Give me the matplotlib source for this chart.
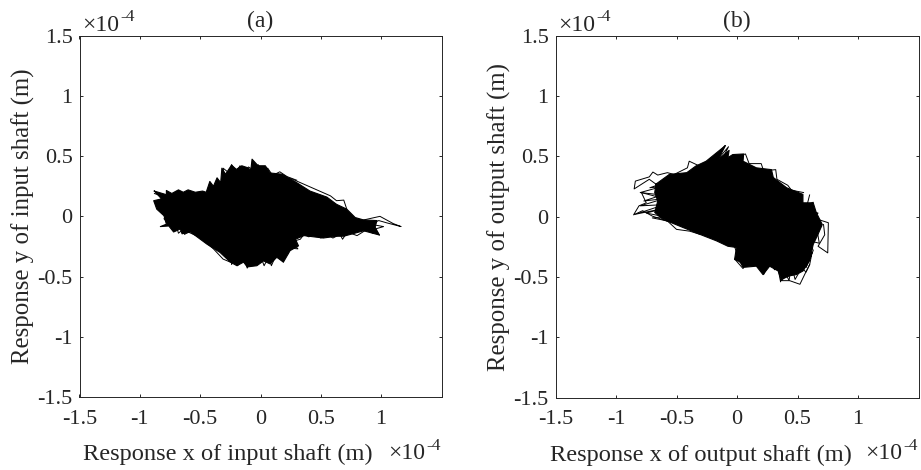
import matplotlib
matplotlib.use("Agg")
import matplotlib.pyplot as plt

plt.rcParams['font.family'] = ['Liberation Serif', 'DejaVu Serif']

ticks = [-1.5, -1, -0.5, 0, 0.5, 1, 1.5]
xtick_labels = ['-1.5', '-1', '-0.5', '0', '0.5', '1', '']
ytick_labels = ['-1.5', '-1', '-0.5', '0', '0.5', '1', '1.5']

# Envelope of the orbit, input shaft (units of 1e-4 m)
input_x = [-0.88,-0.78,-0.78,-0.735,-0.68,-0.64,-0.60,-0.54,-0.48,-0.45,-0.42,-0.39,-0.36,-0.33,-0.32,-0.29,
           -0.24,-0.20,-0.155,-0.11,-0.08,-0.07,-0.02,0.04,0.08,0.18,0.30,0.41,0.55,0.63,0.715,0.785,0.855,
           0.965,0.95,0.985,0.855,0.69,0.63,0.52,0.36,0.29,0.315,0.245,0.19,0.135,0.08,0.025,-0.03,-0.11,
           -0.14,-0.195,-0.25,-0.335,-0.445,-0.58,-0.65,-0.665,-0.72,-0.76,-0.83,-0.78,-0.80,-0.86,-0.885,-0.82,-0.88]
input_y = [0.21,0.18,0.215,0.19,0.22,0.20,0.22,0.20,0.21,0.20,0.29,0.25,0.32,0.28,0.40,0.35,
           0.425,0.39,0.42,0.405,0.385,0.475,0.42,0.42,0.36,0.35,0.28,0.21,0.16,0.10,0.06,-0.01,-0.03,
           -0.035,-0.09,-0.155,-0.12,-0.165,-0.165,-0.18,-0.16,-0.19,-0.245,-0.285,-0.38,-0.34,-0.395,-0.37,-0.41,-0.42,
           -0.38,-0.41,-0.38,-0.30,-0.23,-0.13,-0.145,-0.105,-0.13,-0.08,-0.085,-0.065,0.005,0.06,0.13,0.145,0.21]

# Loose excursions of the input-shaft orbit
input_tail_x = [0.855,0.99,1.10,1.165,1.05,0.98,0.91,1.02,0.95,0.985]
input_tail_y = [-0.03,0.0,-0.06,-0.085,-0.055,-0.035,-0.065,-0.085,-0.105,-0.155]
input_upper_x = [0.25,0.33,0.58,0.63,0.69,0.715]
input_upper_y = [0.315,0.28,0.17,0.13,0.135,0.06]
input_lower_x = [-0.60,-0.50,-0.39,-0.31,-0.25]
input_lower_y = [-0.13,-0.175,-0.27,-0.355,-0.38]
input_bottom_x = [-0.24,-0.24,-0.20,-0.19,-0.14,-0.11,-0.07,-0.04,0.0,0.03,0.07,0.09,0.13,0.19,0.17,0.23,0.21,0.31,0.26,0.33,
                  0.36,0.40,0.45,0.50,0.55,0.60,0.66,0.68,0.72,0.80,0.88,0.93]
input_bottom_y = [-0.33,-0.40,-0.33,-0.41,-0.33,-0.43,-0.34,-0.40,-0.33,-0.41,-0.33,-0.41,-0.32,-0.38,-0.30,-0.31,-0.26,-0.27,-0.21,-0.19,
                  -0.15,-0.17,-0.15,-0.18,-0.15,-0.18,-0.15,-0.19,-0.13,-0.16,-0.11,-0.14]
input_left_x = [-0.70,-0.68,-0.62,-0.63,-0.56,-0.75,-0.71,-0.80,-0.76,-0.88,-0.78,-0.87,-0.79,-0.88,-0.74]
input_left_y = [-0.07,-0.14,-0.09,-0.15,-0.11,-0.05,-0.12,-0.02,0.03,0.12,0.09,0.10,0.17,0.19,0.14]
input_top_x = [-0.30,-0.31,-0.26,-0.24,-0.20,-0.17,-0.13,-0.10,-0.05,-0.02,0.02,0.06,0.10,0.16,0.22,0.30]
input_top_y = [0.33,0.40,0.36,0.43,0.37,0.42,0.37,0.41,0.38,0.43,0.37,0.40,0.34,0.37,0.33,0.30]

# Envelope of the orbit, output shaft (units of 1e-4 m)
output_x = [-0.67,-0.56,-0.415,-0.34,-0.255,-0.095,-0.155,-0.065,-0.075,-0.035,0.055,0.05,0.16,0.285,0.30,0.41,
            0.545,0.545,0.63,0.655,0.705,0.67,0.63,0.60,0.545,0.49,0.435,0.365,0.34,0.27,0.215,0.16,0.05,0.02,
            -0.02,-0.005,-0.075,-0.17,-0.31,-0.445,-0.615,-0.68,-0.655,-0.68,-0.67]
output_y = [0.27,0.35,0.365,0.42,0.46,0.59,0.475,0.55,0.49,0.515,0.52,0.46,0.405,0.39,0.325,0.24,
            0.185,0.115,0.115,0.035,-0.065,-0.145,-0.23,-0.365,-0.45,-0.48,-0.49,-0.52,-0.45,-0.41,-0.48,-0.41,-0.42,-0.365,
            -0.355,-0.255,-0.245,-0.20,-0.145,-0.09,-0.02,0.035,0.13,0.20,0.27]

# Loose excursions of the output-shaft orbit
output_left_x = [-0.67,-0.725,-0.85,-0.84,-0.725,-0.695,-0.655,-0.575,-0.52,-0.41,-0.395,-0.31]
output_left_y = [0.27,0.31,0.23,0.295,0.33,0.37,0.345,0.365,0.35,0.405,0.46,0.42]
output_low_x = [-0.64,-0.79,-0.75,-0.81,-0.855,-0.78,-0.70,-0.57,-0.50,-0.39,-0.31]
output_low_y = [0.16,0.20,0.115,0.09,0.015,0.05,0.005,-0.04,-0.105,-0.12,-0.145]
output_right_x = [0.63,0.755,0.75,0.67,0.725,0.715]
output_right_y = [-0.01,-0.05,-0.30,-0.245,-0.15,-0.065]
output_bottom_x = [0.60,0.52,0.435,0.365,0.41]
output_bottom_y = [-0.395,-0.56,-0.53,-0.53,-0.49]
output_under_x = [-0.02,0.03,-0.02,0.05,0.10,0.18,0.20,0.22,0.28,0.31,0.33,0.36,0.38,0.43,0.45,0.48,0.52,0.50,0.57,0.60,
                  0.62,0.57,0.63,0.60,0.68,0.66,0.70,0.62,0.67,0.60,0.63,0.58,0.60]
output_under_y = [-0.25,-0.38,-0.35,-0.43,-0.32,-0.42,-0.35,-0.48,-0.36,-0.44,-0.38,-0.54,-0.42,-0.53,-0.40,-0.52,-0.45,-0.38,-0.46,-0.40,
                  -0.30,-0.42,-0.28,-0.20,-0.22,-0.10,-0.08,-0.02,0.03,0.05,0.12,0.10,0.18]
output_fan_x = [-0.55,-0.72,-0.62,-0.80,-0.62,-0.77,-0.60,-0.80,-0.60,-0.84,-0.60,-0.75,-0.60,-0.70,-0.50]
output_fan_y = [0.30,0.24,0.25,0.20,0.18,0.13,0.15,0.09,0.10,0.02,0.07,0.03,0.0,-0.01,-0.05]
output_crest_x = [-0.40,-0.27,-0.32,-0.16,-0.25,-0.10,-0.18,-0.07,-0.14,0.0,0.07,0.10,0.20,0.22,0.32,0.33,0.42,0.45,0.55]
output_crest_y = [0.33,0.42,0.38,0.50,0.40,0.59,0.45,0.58,0.44,0.50,0.52,0.44,0.44,0.38,0.39,0.31,0.26,0.22,0.20]

TXT = '#262626'
fig = plt.figure(figsize=(9.21, 4.70), dpi=100)


def to_rect(l, r, t, b):
    return [l / 921, 1 - b / 470, (r - l) / 921, (b - t) / 470]


def multiplier(px, py):
    fig.text(px / 921, 1 - py / 470, '\u00d710', fontsize=17, color=TXT, va='baseline', ha='left')
    fig.text((px + 38) / 921, 1 - (py - 9.5) / 470, '-4', fontsize=12.5, color=TXT, va='baseline', ha='left')


def panel(rect, title, xlabel, ylabel, env_x, env_y, loops, xlab_pos, mult_top_x, mult_bot_x):
    ax = fig.add_axes(to_rect(*rect))
    ax.fill(env_x, env_y, color='black', lw=0)
    ax.plot(env_x, env_y, color='black', lw=0.8)
    for lx, ly in loops:
        ax.plot(lx, ly, color='black', lw=0.7)
    ax.set_xlim(-1.5, 1.5)
    ax.set_ylim(-1.5, 1.5)
    ax.set_xticks(ticks)
    ax.set_xticklabels(xtick_labels)
    ax.set_yticks(ticks)
    ax.set_yticklabels(ytick_labels)
    ax.tick_params(direction='in', top=True, right=True, length=2.5, width=0.7,
                   labelsize=16, colors=TXT)
    ax.tick_params(axis='x', pad=9)
    ax.tick_params(axis='y', pad=5)
    for s in ax.spines.values():
        s.set_linewidth(0.7)
        s.set_color(TXT)
    ax.set_title(title, fontsize=17, color=TXT, pad=6)
    ax.set_xlabel(xlabel, fontsize=17.6, color=TXT, va='center')
    ax.xaxis.set_label_coords(xlab_pos, -0.16)
    ax.set_ylabel(ylabel, fontsize=17.9, color=TXT, va='center')
    ax.yaxis.set_label_coords(-0.154, 0.5)
    multiplier(mult_top_x, 30.7)
    multiplier(mult_bot_x, 459)
    return ax


panel((79.5, 441.5, 35.7, 397), '(a)', 'Response x of input shaft (m)', 'Response y of input shaft (m)',
      input_x, input_y,
      [(input_tail_x, input_tail_y), (input_upper_x, input_upper_y), (input_lower_x, input_lower_y),
       (input_bottom_x, input_bottom_y), (input_left_x, input_left_y), (input_top_x, input_top_y)], 0.409, 82, 388)
panel((555.5, 918.5, 35.7, 397.7), '(b)', 'Response x of output shaft (m)', 'Response y of output shaft (m)',
      output_x, output_y,
      [(output_left_x, output_left_y), (output_low_x, output_low_y), (output_right_x, output_right_y),
       (output_bottom_x, output_bottom_y), (output_under_x, output_under_y), (output_fan_x, output_fan_y),
       (output_crest_x, output_crest_y)], 0.402, 558, 865)

fig.savefig('out.png', dpi=100)
